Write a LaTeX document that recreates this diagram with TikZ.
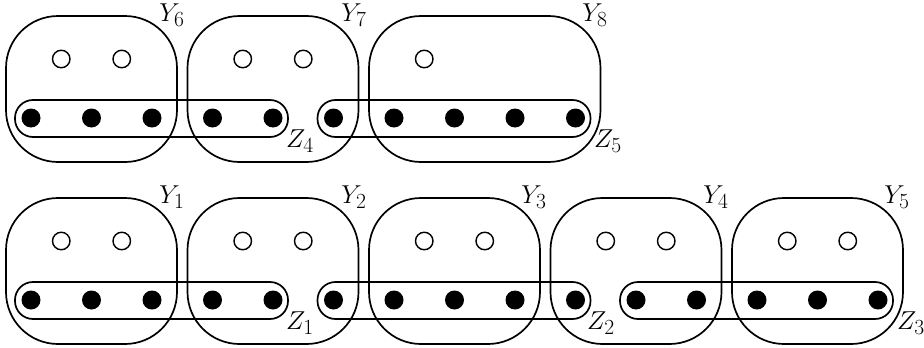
\documentclass[tikz,border=0pt]{standalone}
\newcommand{\biglab}[1]{\scalebox{1.04}{\Huge$#1$}}
\begin{document}
\begin{tikzpicture}[x=1pt,y=-1pt,
  full/.style={circle,fill=black,inner sep=0pt,minimum size=19pt},
  hollow/.style={circle,draw=black,line width=1.4pt,inner sep=0pt,minimum size=17.5pt},
  ybox/.style={draw=black,line width=1.7pt,rounded corners=52pt,minimum height=146pt,inner sep=0pt},
  zbox/.style={draw=black,line width=1.7pt,rounded corners=18pt,minimum height=37pt,inner sep=0pt},
  lab/.style={inner sep=0pt}]
\useasboundingbox (0,0) rectangle (924,348);
% top row dots
\foreach \i in {0,...,9} \node[full] (t\i) at ({31+60.5*\i},118) {};
\foreach \i/\n in {0.5/a,1.5/b,3.5/c,4.5/d,6.5/e} \node[hollow] (to\n) at ({31+60.5*\i},59) {};
% bottom row dots
\foreach \i in {0,...,14} \node[full] (b\i) at ({31+60.5*\i},300) {};
\foreach \i/\n in {0.5/a,1.5/b,3.5/c,4.5/d,6.5/e,7.5/f,9.5/g,10.5/h,12.5/i,13.5/j} \node[hollow] (bo\n) at ({31+60.5*\i},241) {};
% Y boxes top
\node[ybox,minimum width=171pt] (Y6) at (91.5,89) {};
\node[ybox,minimum width=171pt] (Y7) at (273,89) {};
\node[ybox,minimum width=231.5pt] (Y8) at (484.75,89) {};
% Y boxes bottom
\node[ybox,minimum width=171pt] (Y1) at (91.5,271) {};
\node[ybox,minimum width=171pt] (Y2) at (273,271) {};
\node[ybox,minimum width=171pt] (Y3) at (454.5,271) {};
\node[ybox,minimum width=171pt] (Y4) at (636,271) {};
\node[ybox,minimum width=171pt] (Y5) at (817.5,271) {};
% Z boxes
\node[zbox,minimum width=273pt] (Z4) at (151.5,118.5) {};
\node[zbox,minimum width=273pt] (Z5) at (454,118.5) {};
\node[zbox,minimum width=273pt] (Z1) at (151.5,300.5) {};
\node[zbox,minimum width=273pt] (Z2) at (454,300.5) {};
\node[zbox,minimum width=273pt] (Z3) at (756.5,300.5) {};
% labels
\node[lab] (lY6) at (172,15) {\biglab{Y_6}};
\node[lab] (lY7) at (354,15) {\biglab{Y_7}};
\node[lab] (lY8) at (595,15) {\biglab{Y_8}};
\node[lab] (lY1) at (172,197) {\biglab{Y_1}};
\node[lab] (lY2) at (354,197) {\biglab{Y_2}};
\node[lab] (lY3) at (534,197) {\biglab{Y_3}};
\node[lab] (lY4) at (716,197) {\biglab{Y_4}};
\node[lab] (lY5) at (897,197) {\biglab{Y_5}};
\node[lab] (lZ4) at (300,141) {\biglab{Z_4}};
\node[lab] (lZ5) at (608,141) {\biglab{Z_5}};
\node[lab] (lZ1) at (300,323) {\biglab{Z_1}};
\node[lab] (lZ2) at (601,323) {\biglab{Z_2}};
\node[lab] (lZ3) at (911,323) {\biglab{Z_3}};
\end{tikzpicture}
\end{document}
